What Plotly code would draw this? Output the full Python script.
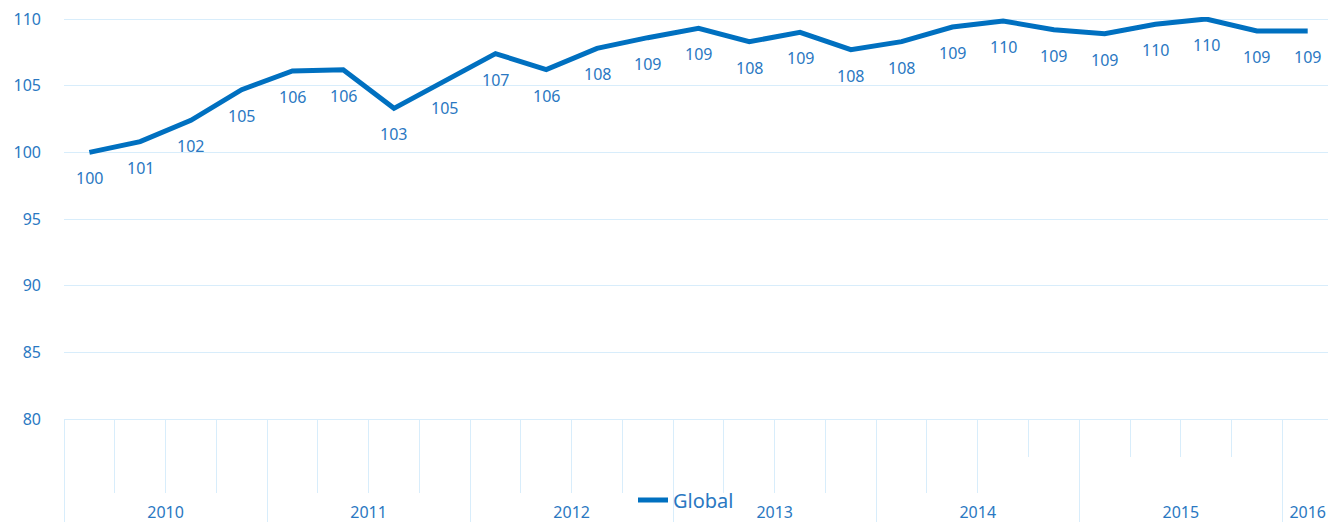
import plotly.graph_objects as go

# ---- data ----
years = [2010]*4 + [2011]*4 + [2012]*4 + [2013]*4 + [2014]*4 + [2015]*4 + [2016]
quarters = ["Q1", "Q2", "Q3", "Q4"]*6 + ["Q1"]
categories = [f"{y} {q}" for y, q in zip(years, quarters)]
global_index = [100.0, 100.8, 102.4, 104.7, 106.1, 106.2, 103.3, 105.3, 107.4, 106.2,
                107.8, 108.6, 109.3, 108.3, 109.0, 107.7, 108.3, 109.4, 109.85, 109.2,
                108.9, 109.6, 110.0, 109.1, 109.1]
series_name = "Global"
y_ticks = [80, 85, 90, 95, 100, 105, 110]

# ---- styles ----
LINE = "#0070C0"
TEXT = "#2A78C2"
GRID = "#D8EDFB"
FONT = "Noto Sans"

n = len(categories)
xr = [-0.5, n - 0.6]
yr = [79.85, 110.15]
base_pos = (y_ticks[0] - yr[0]) / (yr[1] - yr[0])  # paper position of the 80 line

fig = go.Figure()
fig.add_trace(go.Scatter(
    x=categories, y=global_index, mode="lines", name=series_name,
    line=dict(color=LINE, width=5), cliponaxis=False,
))

for c, v in zip(categories, global_index):
    fig.add_annotation(x=c, y=v, text=f"{v:.0f}", showarrow=False, yshift=-26,
                       font=dict(family=FONT, size=16, color=TEXT))

# boundaries derived from data
year_bounds = [-0.5] + [i - 0.5 for i in range(1, n) if years[i] != years[i - 1]]
quarter_bounds = [i - 0.5 for i in range(1, n) if years[i] == years[i - 1]]
short_set = {18.5, 20.5, 21.5, 22.5}
long_q = [b for b in quarter_bounds if b not in short_set]
short_q = [b for b in quarter_bounds if b in short_set]
uniq_years = sorted(set(years))
year_centers = [sum(i for i in range(n) if years[i] == y) / years.count(y) for y in uniq_years]

# empty helper traces so the overlay axes are rendered
for ax in ["x2", "x3", "x4", "x5"]:
    fig.add_trace(go.Scatter(x=[None], y=[None], xaxis=ax, yaxis="y", mode="lines",
                             showlegend=False, hoverinfo="skip"))

common = dict(range=xr, overlaying="x", anchor="free", position=base_pos, side="bottom",
              showgrid=False, zeroline=False, showline=False, tickmode="array",
              ticks="outside", tickwidth=1, tickcolor=GRID, fixedrange=True,
              automargin=False)

fig.update_layout(
    width=1328, height=522,
    margin=dict(l=64, r=0, t=17, b=101),
    paper_bgcolor="white", plot_bgcolor="white",
    font=dict(family=FONT, size=16, color=TEXT),
    showlegend=True,
    legend=dict(orientation="h", xref="container", x=633 / 1328, xanchor="left",
                yref="container", y=(522 - 500) / 522, yanchor="middle",
                font=dict(size=20, color=TEXT), bgcolor="rgba(0,0,0,0)"),
    xaxis=dict(type="category", range=xr, showgrid=False, showticklabels=False,
               ticks="", showline=False, zeroline=False, fixedrange=True),
    xaxis2=dict(**common, tickvals=long_q, ticklen=73, showticklabels=False),
    xaxis3=dict(**common, tickvals=short_q, ticklen=37, showticklabels=False),
    xaxis4=dict(**common, tickvals=year_bounds, ticklen=105, showticklabels=False),
    xaxis5=dict(range=xr, overlaying="x", anchor="free", position=base_pos, side="bottom",
                showgrid=False, zeroline=False, showline=False, tickmode="array",
                tickvals=year_centers, ticktext=[str(y) for y in uniq_years],
                ticks="outside", ticklen=79, tickcolor="rgba(0,0,0,0)", fixedrange=True,
                automargin=False, tickfont=dict(family=FONT, size=16, color=TEXT)),
    yaxis=dict(range=yr, tickvals=y_ticks, showgrid=True, gridcolor=GRID,
               gridwidth=1, zeroline=False, showline=False, ticks="", fixedrange=True,
               automargin=False,
               ticklabelstandoff=22, tickfont=dict(family=FONT, size=16, color=TEXT)),
)

fig.write_html("out.html", config={"displayModeBar": False},
               post_script="document.body.style.margin='0';")
